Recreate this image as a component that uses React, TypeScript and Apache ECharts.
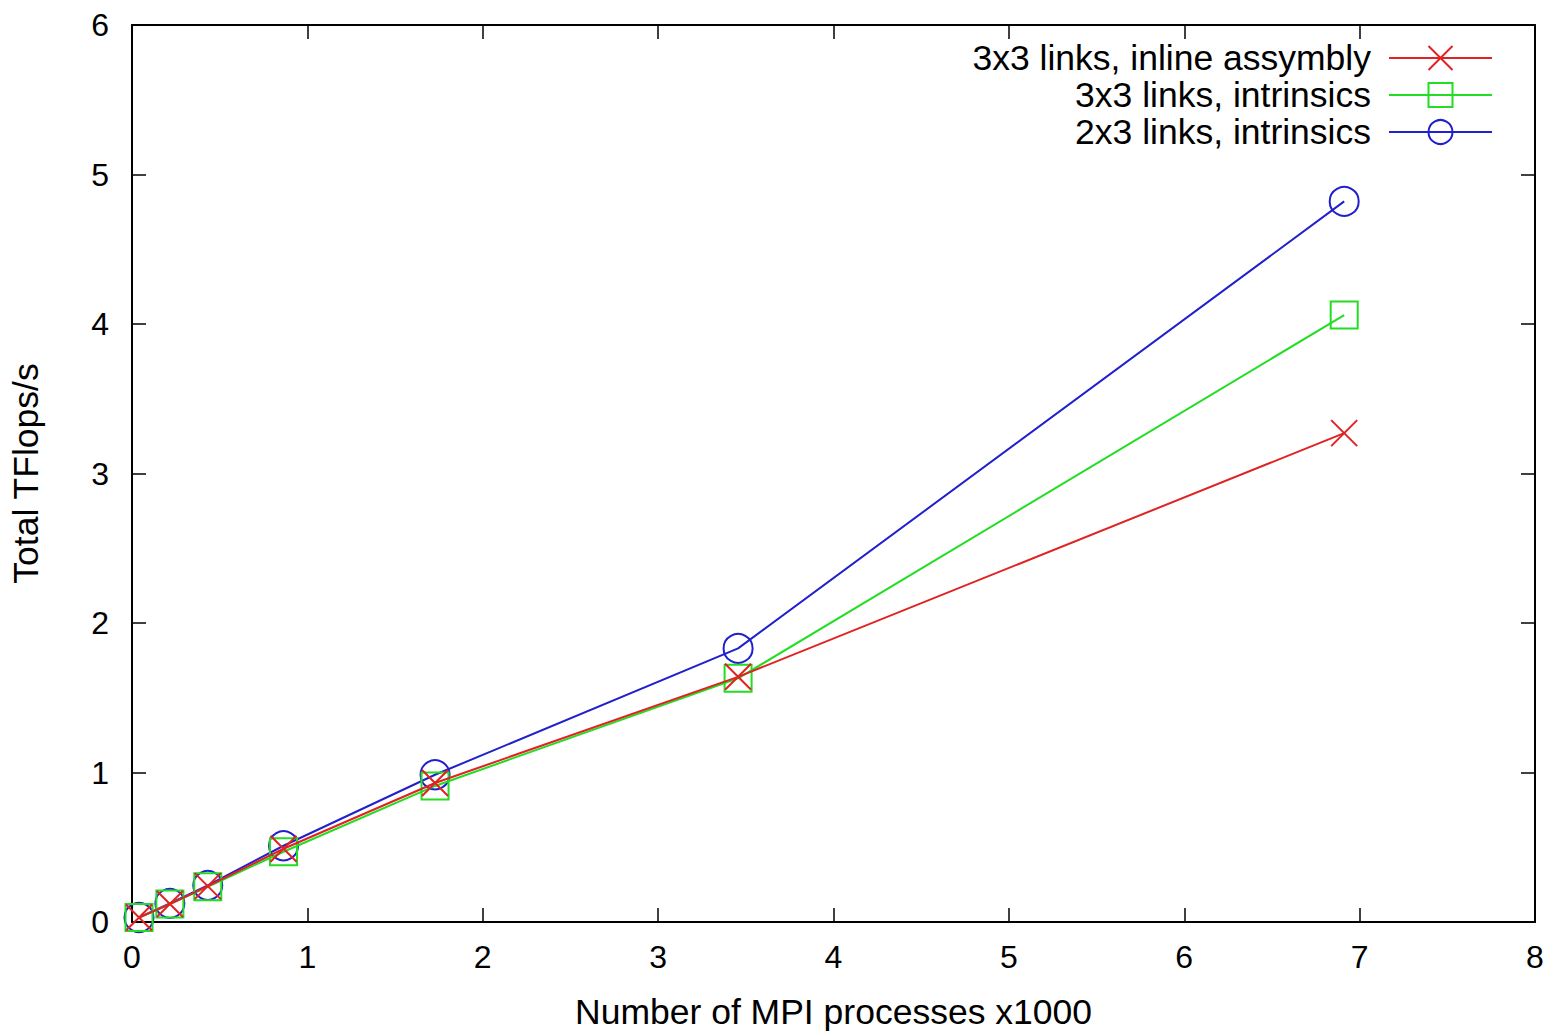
import React, { useEffect, useRef } from "react";
import * as echarts from "echarts";

const processes = [0.04, 0.216, 0.432, 0.864, 1.728, 3.456, 6.912];
const inlineAsm = [0.03, 0.12, 0.24, 0.49, 0.93, 1.64, 3.27];
const intrinsics3x3 = [0.03, 0.12, 0.235, 0.47, 0.91, 1.63, 4.06];
const intrinsics2x3 = [0.03, 0.125, 0.245, 0.51, 0.985, 1.83, 4.82];
const seriesNames = [
  "3x3 links, inline assymbly",
  "3x3 links, intrinsics",
  "2x3 links, intrinsics",
];
const xTicks = [0, 1, 2, 3, 4, 5, 6, 7, 8];
const yTicks = [0, 1, 2, 3, 4, 5, 6];

const RED = "#e02222";
const GREEN = "#22dd22";
const BLUE = "#2020cc";
const FONT = "Liberation Sans, Arial, sans-serif";

const X_PATH = "path://M0,0L10,10M10,0L0,10";

export default function App() {
  const ref = useRef<HTMLDivElement>(null);
  useEffect(() => {
    if (!ref.current) return;
    const chart = echarts.init(ref.current, null, { renderer: "svg" });
    const pair = (ys: number[]) => processes.map((x, i) => [x, ys[i]]);
    const baseAxis = {
      axisLine: { show: true, onZero: false, lineStyle: { color: "#000", width: 2 } },
      axisTick: { show: true, inside: true, length: 14, lineStyle: { color: "#000", width: 1.5 } },
      splitLine: { show: false },
    };
    const mk = (name: string, ys: number[], color: string, symbol: string, size: number, z: number) => ({
      name,
      type: "line",
      data: pair(ys),
      symbol,
      symbolSize: size,
      showSymbol: true,
      z,
      lineStyle: { color, width: 2 },
      itemStyle: { color: "none", borderColor: color, borderWidth: 2 },
      emphasis: { disabled: true },
    });
    chart.setOption({
      animation: false,
      backgroundColor: "#fff",
      textStyle: { fontFamily: FONT },
      grid: { left: 132, right: 19, top: 25, bottom: 107, containLabel: false },
      legend: {
        orient: "vertical",
        right: 56,
        top: 35,
        padding: 5,
        align: "right",
        itemWidth: 103,
        itemHeight: 30,
        itemGap: 1,
        textStyle: {
          fontSize: 35.5,
          lineHeight: 34,
          color: "#000",
          fontFamily: FONT,
          padding: [0, 13, 0, 0],
        },
        data: seriesNames,
        selectedMode: false,
      },
      xAxis: [
        {
          ...baseAxis,
          type: "value",
          min: 0,
          max: 8,
          interval: 1,
          position: "bottom",
          name: "Number of MPI processes x1000",
          nameLocation: "middle",
          nameGap: 72,
          nameTextStyle: { fontSize: 35.5, color: "#000", fontFamily: FONT },
          axisLabel: {
            fontSize: 32,
            color: "#000",
            margin: 19,
            fontFamily: FONT,
            formatter: (v: number) => (xTicks.includes(v) ? String(v) : ""),
          },
        },
        {
          ...baseAxis,
          type: "value",
          min: 0,
          max: 8,
          interval: 1,
          position: "top",
          axisLabel: { show: false },
        },
      ],
      yAxis: [
        {
          ...baseAxis,
          type: "value",
          min: 0,
          max: 6,
          interval: 1,
          position: "left",
          name: "Total TFlops/s",
          nameLocation: "middle",
          nameGap: 88,
          nameRotate: 90,
          nameTextStyle: { fontSize: 35.5, color: "#000", fontFamily: FONT },
          axisLabel: {
            fontSize: 32,
            color: "#000",
            margin: 23,
            fontFamily: FONT,
            formatter: (v: number) => (yTicks.includes(v) ? String(v) : ""),
          },
        },
        {
          ...baseAxis,
          type: "value",
          min: 0,
          max: 6,
          interval: 1,
          position: "right",
          axisLabel: { show: false },
        },
      ],
      series: [
        mk(seriesNames[0], inlineAsm, RED, X_PATH, 26, 4),
        mk(seriesNames[1], intrinsics3x3, GREEN, "rect", 27, 3),
        mk(seriesNames[2], intrinsics2x3, BLUE, "circle", 29, 2),
      ],
    });
    return () => chart.dispose();
  }, []);
  return (
    <div
      ref={ref}
      style={{ position: "fixed", left: 0, top: 0, width: 1554, height: 1035, background: "#fff" }}
    />
  );
}
